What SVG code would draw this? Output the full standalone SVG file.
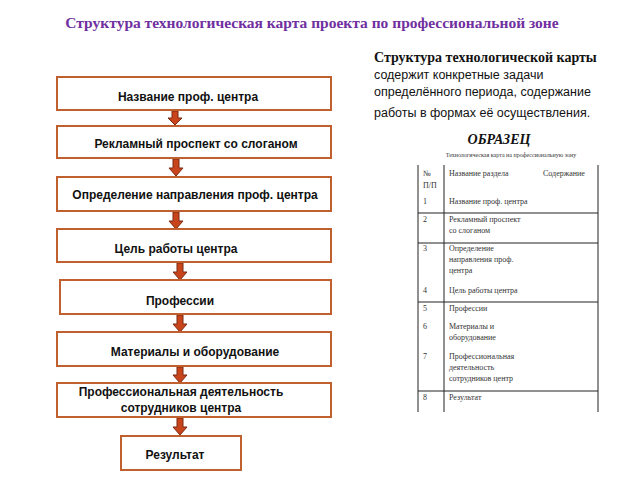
<svg xmlns="http://www.w3.org/2000/svg" width="640" height="480" viewBox="0 0 640 480">
<style>
.box{fill:#fff;stroke:#c0602f;stroke-width:2}
.bt{font-family:"Liberation Sans",sans-serif;font-size:12px;font-weight:bold;fill:#111;text-anchor:middle}
.arr{fill:#c8451c;stroke:#7a2a10;stroke-width:1}
.tt{font-family:"Liberation Serif",serif;font-size:8px;fill:#333}
.tl{stroke:#222;stroke-width:1}
</style>
<rect width="640" height="480" fill="#fff"/>
<text x="312" y="28" font-family="Liberation Serif,serif" font-size="15.5" font-weight="bold" fill="#7030a0" text-anchor="middle">Структура технологическая карта проекта по профессиональной зоне</text>
<g font-family="Liberation Sans,sans-serif" font-size="12.5" fill="#111">
<text x="374" y="62" font-weight="bold" font-family="Liberation Serif,serif" font-size="14">Структура технологической карты</text>
<text x="374" y="79">содержит  конкретные задачи</text>
<text x="374" y="96">определённого периода, содержание</text>
<text x="374" y="117">работы в формах её осуществления.</text>
</g>
<g id="connectors">
<path class="arr" d="M172 111h6v7h4l-7 7l-7-7h4z"/>
<path class="arr" d="M173 159h6v9h4l-7 8l-7-8h4z"/>
<path class="arr" d="M173 212h6v9h4l-7 8l-7-8h4z"/>
<path class="arr" d="M177 263h6v9h4l-7 8l-7-8h4z"/>
<path class="arr" d="M177 315h6v9h4l-7 8l-7-8h4z"/>
<path class="arr" d="M177 367h6v8h4l-7 8l-7-8h4z"/>
<path class="arr" d="M177 418h6v9h4l-7 8l-7-8h4z"/>
</g>
<g id="n1"><rect class="box" x="57" y="77" width="274" height="33"/><text class="bt" x="188" y="101">Название проф. центра</text></g>
<g id="n2"><rect class="box" x="57" y="126" width="274" height="32"/><text class="bt" x="196" y="148">Рекламный проспект  со слоганом</text></g>
<g id="n3"><rect class="box" x="57" y="177" width="274" height="34"/><text class="bt" x="195" y="199">Определение  направления проф. центра</text></g>
<g id="n4"><rect class="box" x="57" y="229" width="274" height="33"/><text class="bt" x="176" y="253">Цель работы центра</text></g>
<g id="n5"><rect class="box" x="60" y="280" width="271" height="34"/><text class="bt" x="180" y="305">Профессии</text></g>
<g id="n6"><rect class="box" x="57" y="332" width="274" height="34"/><text class="bt" x="195" y="356">Материалы и оборудование</text></g>
<g id="n7"><rect class="box" x="57" y="383" width="274" height="34"/><text class="bt" x="181" y="396">Профессиональная деятельность</text><text class="bt" x="181" y="412">сотрудников центра</text></g>
<g id="n8"><rect class="box" x="121" y="436" width="120" height="34"/><text class="bt" x="175" y="459">Результат</text></g>
<g id="sample">
<text x="499" y="144" font-family="Liberation Serif,serif" font-size="14" font-weight="bold" font-style="italic" fill="#111" text-anchor="middle">ОБРАЗЕЦ</text>
<text x="511" y="157" font-family="Liberation Serif,serif" font-size="6" fill="#333" text-anchor="middle">Технологическая карта на профессиональную зону</text>
<line class="tl" x1="418" y1="165" x2="418" y2="412"/>
<line class="tl" x1="444" y1="165" x2="444" y2="412"/>
<line class="tl" x1="598" y1="165" x2="598" y2="412"/>
<line class="tl" x1="418" y1="213" x2="598" y2="213"/>
<line class="tl" x1="418" y1="243" x2="598" y2="243"/>
<line class="tl" x1="418" y1="302" x2="598" y2="302"/>
<line class="tl" x1="418" y1="391" x2="598" y2="391"/>
<g class="tt">
<text x="423" y="176">№</text><text x="423" y="188">П/П</text>
<text x="449" y="176">Название раздела</text><text x="543" y="176">Содержание</text>
<text x="423" y="204">1</text><text x="449" y="204">Название проф. центра</text>
<text x="423" y="222">2</text><text x="449" y="222">Рекламный проспект</text><text x="449" y="233">со слоганом</text>
<text x="423" y="251">3</text><text x="449" y="251">Определение</text><text x="449" y="262">направления проф.</text><text x="449" y="273">центра</text>
<text x="423" y="293">4</text><text x="449" y="293">Цель работы центра</text>
<text x="423" y="311">5</text><text x="449" y="311">Профессии</text>
<text x="423" y="329">6</text><text x="449" y="329">Материалы и</text><text x="449" y="340">оборудование</text>
<text x="423" y="359">7</text><text x="449" y="359">Профессиональная</text><text x="449" y="370">деятельность</text><text x="449" y="381">сотрудников центр</text>
<text x="423" y="400">8</text><text x="449" y="400">Результат</text>
</g>
</g>
</svg>
